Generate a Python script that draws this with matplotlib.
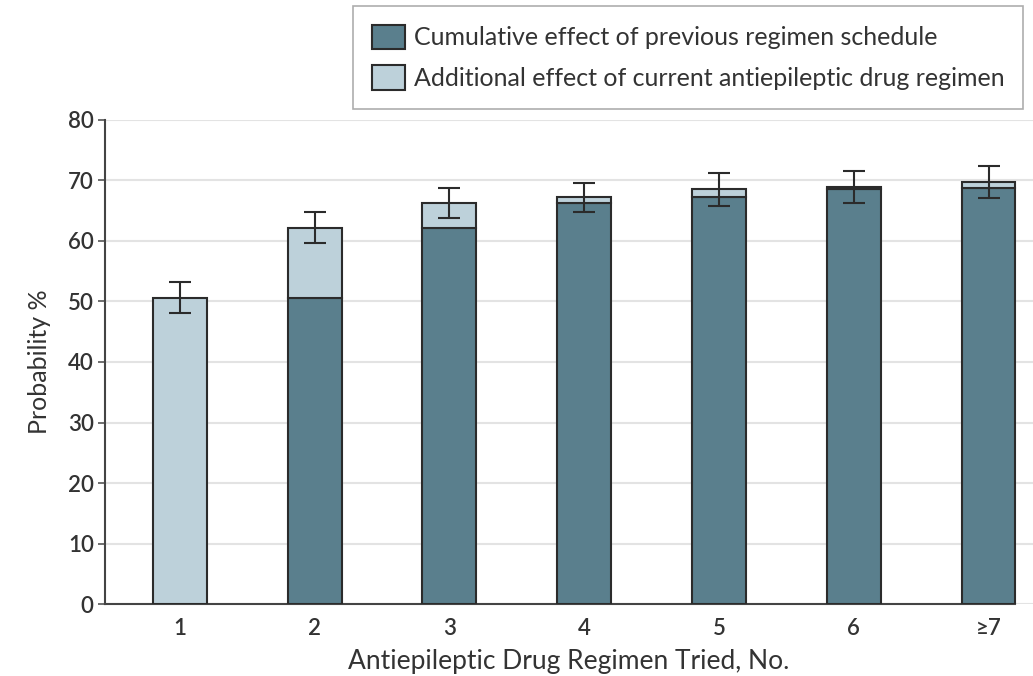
import matplotlib.pyplot as plt
import numpy as np
from matplotlib.patches import Patch

regimens = ['1', '2', '3', '4', '5', '6', '≥7']
cumulative = [0, 50.6, 62.1, 66.3, 67.3, 68.6, 68.8]
total = [50.6, 62.1, 66.3, 67.3, 68.6, 68.9, 69.8]
err_low = [48.1, 59.7, 63.8, 64.8, 65.8, 66.2, 67.1]
err_high = [53.2, 64.8, 68.8, 69.6, 71.2, 71.6, 72.4]

dark = '#5a7f8d'
light = '#bdd1da'
edge = '#2b2b2b'
txt = '#333333'

plt.rcParams['font.family'] = ['Lato', 'DejaVu Sans']

fig = plt.figure(figsize=(10.33, 6.76), dpi=100)
ax = fig.add_axes([0.1016, 0.1065, 0.8984, 0.716])

x = np.arange(len(regimens))
cum = np.array(cumulative)
tot = np.array(total)
w = 0.4
ax.bar(x, cum, w, color=dark, edgecolor=edge, linewidth=1.5, zorder=3)
ax.bar(x, tot - cum, w, bottom=cum, color=light, edgecolor=edge, linewidth=1.5, zorder=3)

lo = tot - np.array(err_low)
hi = np.array(err_high) - tot
ax.errorbar(x, tot, yerr=[lo, hi], fmt='none', ecolor=edge, elinewidth=1.5,
            capsize=8, capthick=1.5, zorder=4)

ax.set_xlim(-0.556, 6.33)
ax.set_ylim(0, 80)
ax.set_yticks(range(0, 81, 10))
ax.set_xticks(x)
ax.set_xticklabels(regimens)
ax.yaxis.grid(True, color='#e3e3e3', linewidth=1.5, zorder=0)
ax.set_axisbelow(True)

for s in ['top', 'right']:
    ax.spines[s].set_visible(False)
ax.spines['left'].set_color('#444444')
ax.spines['bottom'].set_color('#444444')
ax.spines['left'].set_linewidth(1.5)
ax.spines['bottom'].set_linewidth(1.5)
ax.spines['bottom'].set_bounds(-0.556, 6.2)

ax.tick_params(axis='y', length=5, width=1.2, color='#555555', labelsize=16, labelcolor=txt, pad=3)
ax.tick_params(axis='x', length=0, labelsize=16, labelcolor=txt, pad=10)
for lab in ax.get_yticklabels() + ax.get_xticklabels():
    lab.set_fontweight('semibold')

ax.set_ylabel('Probability %', fontsize=18, color=txt, labelpad=12)
ax.set_xlabel('Antiepileptic Drug Regimen Tried, No.', fontsize=19, color=txt, labelpad=7)

handles = [Patch(facecolor=dark, edgecolor=edge, linewidth=1.5),
           Patch(facecolor=light, edgecolor=edge, linewidth=1.5)]
labels = ['Cumulative effect of previous regimen schedule',
          'Additional effect of current antiepileptic drug regimen']
leg = fig.legend(handles, labels, loc='upper left', bbox_to_anchor=(353 / 1033, 1 - 6 / 676),
                 fontsize=18, frameon=True, fancybox=False, edgecolor='#999999',
                 handlelength=1.32, handleheight=1.12, handletextpad=0.36,
                 labelspacing=0.64, borderpad=0.75, borderaxespad=0)
leg.get_frame().set_linewidth(1.2)
for t in leg.get_texts():
    t.set_color(txt)

fig.savefig('out.png', dpi=100)
